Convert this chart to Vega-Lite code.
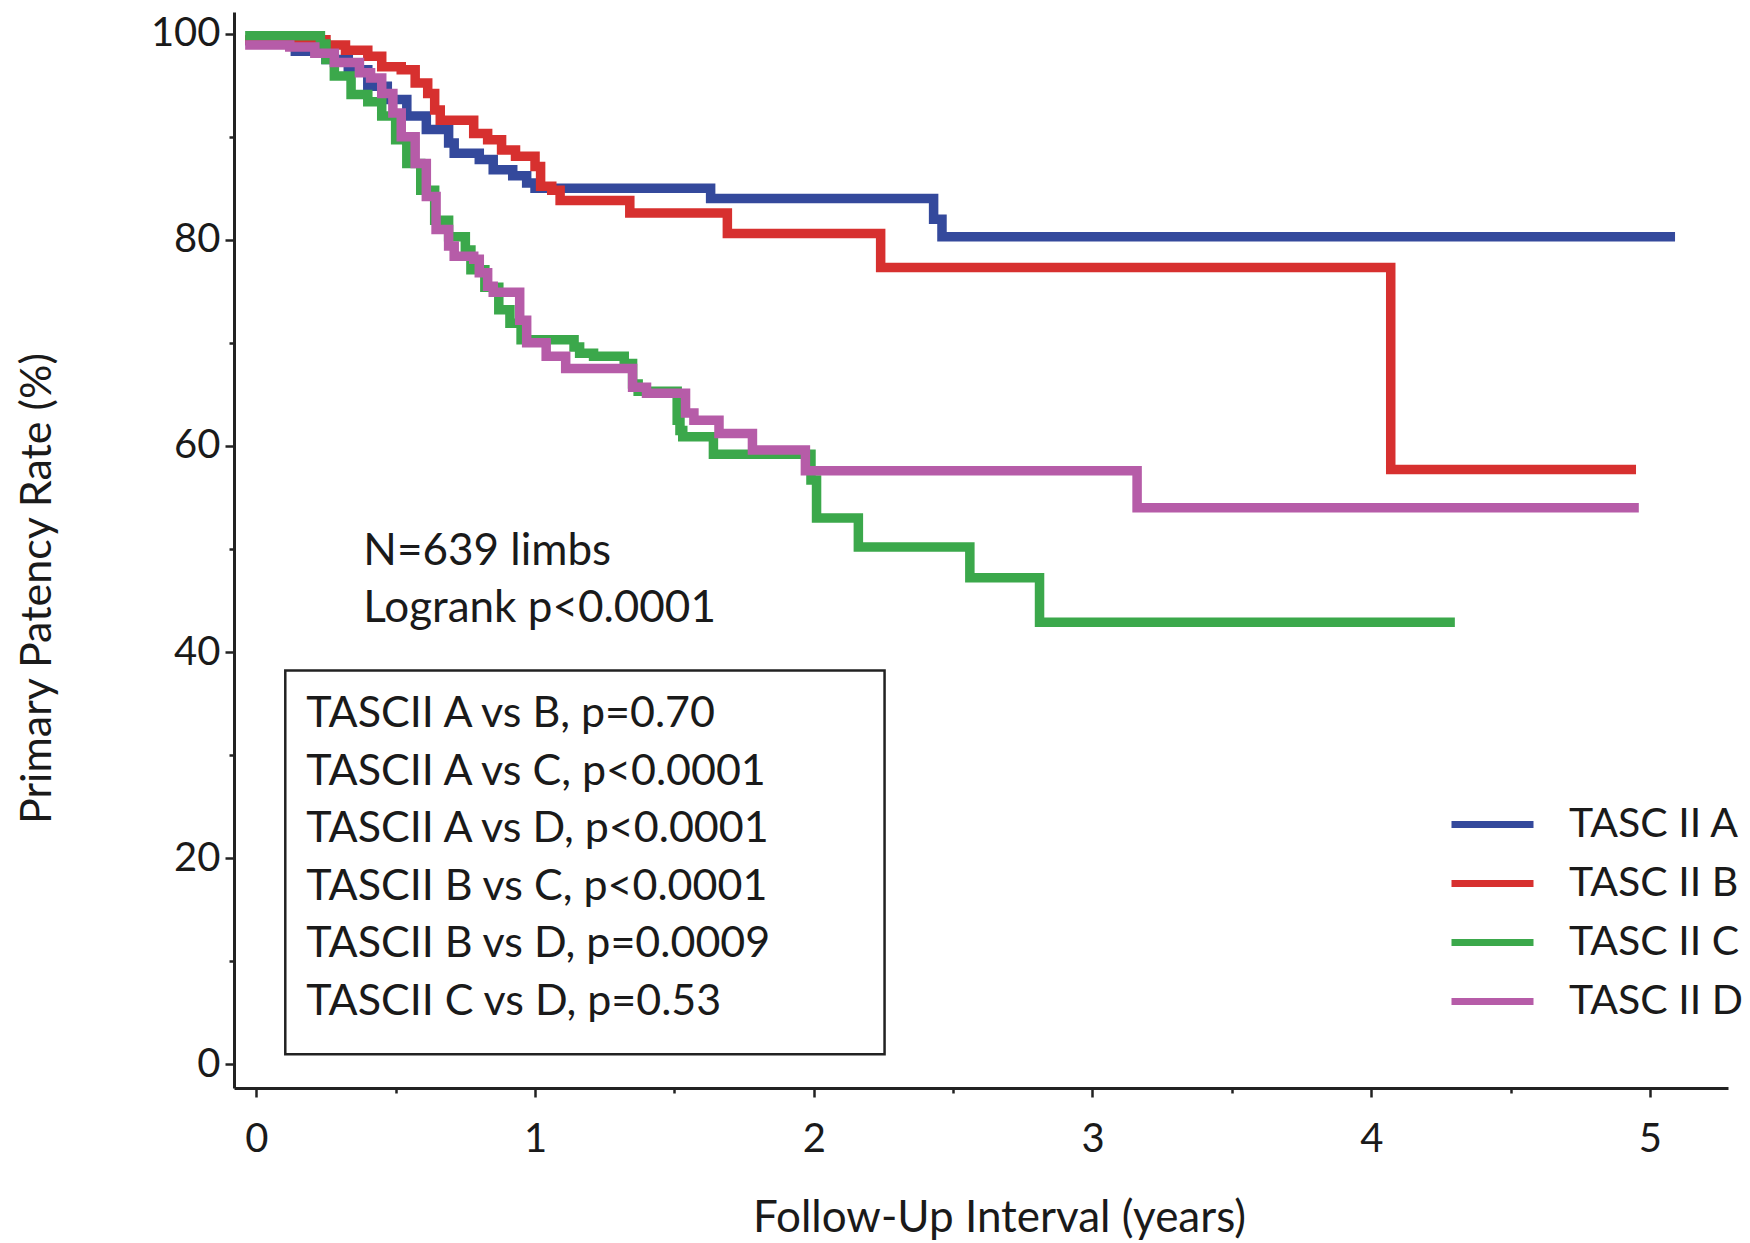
{
  "$schema": "https://vega.github.io/schema/vega-lite/v6.json",
  "width": 1494,
  "height": 1076,
  "autosize": {"type": "none"},
  "padding": {"left": 234, "top": 12, "right": 22, "bottom": 155},
  "background": "white",
  "config": {"view": {"stroke": null}, "font": "Lato"},
  "layer": [
    {
      "data": {"values": [{}]},
      "mark": {"type": "rect", "fill": null, "stroke": "#222222", "strokeWidth": 2.5},
      "encoding": {
        "x": {"datum": 0.104, "type": "quantitative"},
        "x2": {"datum": 2.254},
        "y": {"datum": 38.2, "type": "quantitative"},
        "y2": {"datum": 0.97}
      }
    },
    {
      "data": {"values": [{}]},
      "mark": {"type": "text", "align": "left", "baseline": "alphabetic", "fontSize": 44, "lineHeight": 57, "color": "#1a1a1a", "text": ["N=639 limbs", "Logrank p<0.0001"]},
      "encoding": {
        "x": {"datum": 0.384, "type": "quantitative"},
        "y": {"datum": 48.4, "type": "quantitative"}
      }
    },
    {
      "data": {"values": [{}]},
      "mark": {"type": "text", "align": "left", "baseline": "alphabetic", "fontSize": 43, "lineHeight": 57.5, "color": "#1a1a1a", "text": ["TASCII A vs B, p=0.70", "TASCII A vs C, p<0.0001", "TASCII A vs D, p<0.0001", "TASCII B vs C, p<0.0001", "TASCII B vs D, p=0.0009", "TASCII C vs D, p=0.53"]},
      "encoding": {
        "x": {"datum": 0.179, "type": "quantitative"},
        "y": {"datum": 32.7, "type": "quantitative"}
      }
    },
    {
      "data": {"values": [
        {"group": "TASC II A", "t": -0.04, "p": 99.3},
        {"group": "TASC II A", "t": 0.05, "p": 99.0},
        {"group": "TASC II A", "t": 0.14, "p": 98.3},
        {"group": "TASC II A", "t": 0.25, "p": 97.5},
        {"group": "TASC II A", "t": 0.33, "p": 96.5},
        {"group": "TASC II A", "t": 0.40, "p": 94.9},
        {"group": "TASC II A", "t": 0.47, "p": 93.6},
        {"group": "TASC II A", "t": 0.54, "p": 92.0},
        {"group": "TASC II A", "t": 0.61, "p": 90.7},
        {"group": "TASC II A", "t": 0.69, "p": 89.4},
        {"group": "TASC II A", "t": 0.71, "p": 88.4},
        {"group": "TASC II A", "t": 0.80, "p": 87.8},
        {"group": "TASC II A", "t": 0.85, "p": 86.8},
        {"group": "TASC II A", "t": 0.92, "p": 86.2},
        {"group": "TASC II A", "t": 0.97, "p": 85.5},
        {"group": "TASC II A", "t": 1.00, "p": 85.0},
        {"group": "TASC II A", "t": 1.63, "p": 84.0},
        {"group": "TASC II A", "t": 2.43, "p": 82.0},
        {"group": "TASC II A", "t": 2.46, "p": 80.3},
        {"group": "TASC II A", "t": 5.09, "p": 80.3},
        {"group": "TASC II B", "t": -0.04, "p": 99.4},
        {"group": "TASC II B", "t": 0.25, "p": 98.9},
        {"group": "TASC II B", "t": 0.32, "p": 98.4},
        {"group": "TASC II B", "t": 0.40, "p": 97.8},
        {"group": "TASC II B", "t": 0.45, "p": 96.8},
        {"group": "TASC II B", "t": 0.52, "p": 96.5},
        {"group": "TASC II B", "t": 0.57, "p": 95.2},
        {"group": "TASC II B", "t": 0.615, "p": 94.2},
        {"group": "TASC II B", "t": 0.64, "p": 92.6},
        {"group": "TASC II B", "t": 0.66, "p": 91.6},
        {"group": "TASC II B", "t": 0.78, "p": 90.3},
        {"group": "TASC II B", "t": 0.83, "p": 89.7},
        {"group": "TASC II B", "t": 0.88, "p": 88.7},
        {"group": "TASC II B", "t": 0.93, "p": 88.1},
        {"group": "TASC II B", "t": 1.00, "p": 87.1},
        {"group": "TASC II B", "t": 1.02, "p": 85.2},
        {"group": "TASC II B", "t": 1.06, "p": 84.8},
        {"group": "TASC II B", "t": 1.09, "p": 83.8},
        {"group": "TASC II B", "t": 1.34, "p": 82.6},
        {"group": "TASC II B", "t": 1.69, "p": 80.6},
        {"group": "TASC II B", "t": 2.24, "p": 77.3},
        {"group": "TASC II B", "t": 4.07, "p": 57.7},
        {"group": "TASC II B", "t": 4.95, "p": 57.7},
        {"group": "TASC II C", "t": -0.04, "p": 99.8},
        {"group": "TASC II C", "t": 0.23, "p": 99.0},
        {"group": "TASC II C", "t": 0.25, "p": 97.5},
        {"group": "TASC II C", "t": 0.28, "p": 95.9},
        {"group": "TASC II C", "t": 0.34, "p": 94.1},
        {"group": "TASC II C", "t": 0.40, "p": 93.4},
        {"group": "TASC II C", "t": 0.45, "p": 92.0},
        {"group": "TASC II C", "t": 0.50, "p": 89.7},
        {"group": "TASC II C", "t": 0.54, "p": 87.4},
        {"group": "TASC II C", "t": 0.59, "p": 84.8},
        {"group": "TASC II C", "t": 0.64, "p": 81.9},
        {"group": "TASC II C", "t": 0.69, "p": 80.3},
        {"group": "TASC II C", "t": 0.75, "p": 79.0},
        {"group": "TASC II C", "t": 0.77, "p": 77.1},
        {"group": "TASC II C", "t": 0.82, "p": 75.4},
        {"group": "TASC II C", "t": 0.87, "p": 73.2},
        {"group": "TASC II C", "t": 0.91, "p": 71.9},
        {"group": "TASC II C", "t": 0.95, "p": 70.3},
        {"group": "TASC II C", "t": 1.14, "p": 69.6},
        {"group": "TASC II C", "t": 1.16, "p": 69.0},
        {"group": "TASC II C", "t": 1.21, "p": 68.7},
        {"group": "TASC II C", "t": 1.32, "p": 68.0},
        {"group": "TASC II C", "t": 1.35, "p": 66.0},
        {"group": "TASC II C", "t": 1.37, "p": 65.3},
        {"group": "TASC II C", "t": 1.51, "p": 62.5},
        {"group": "TASC II C", "t": 1.52, "p": 61.5},
        {"group": "TASC II C", "t": 1.53, "p": 60.9},
        {"group": "TASC II C", "t": 1.64, "p": 59.2},
        {"group": "TASC II C", "t": 1.99, "p": 56.7},
        {"group": "TASC II C", "t": 2.01, "p": 53.0},
        {"group": "TASC II C", "t": 2.16, "p": 50.2},
        {"group": "TASC II C", "t": 2.56, "p": 47.2},
        {"group": "TASC II C", "t": 2.81, "p": 42.9},
        {"group": "TASC II C", "t": 4.30, "p": 42.9},
        {"group": "TASC II D", "t": -0.04, "p": 98.9},
        {"group": "TASC II D", "t": 0.12, "p": 98.7},
        {"group": "TASC II D", "t": 0.21, "p": 98.1},
        {"group": "TASC II D", "t": 0.28, "p": 97.2},
        {"group": "TASC II D", "t": 0.37, "p": 96.2},
        {"group": "TASC II D", "t": 0.41, "p": 95.7},
        {"group": "TASC II D", "t": 0.45, "p": 94.2},
        {"group": "TASC II D", "t": 0.49, "p": 92.3},
        {"group": "TASC II D", "t": 0.52, "p": 90.0},
        {"group": "TASC II D", "t": 0.57, "p": 87.4},
        {"group": "TASC II D", "t": 0.61, "p": 84.2},
        {"group": "TASC II D", "t": 0.645, "p": 81.0},
        {"group": "TASC II D", "t": 0.69, "p": 79.4},
        {"group": "TASC II D", "t": 0.71, "p": 78.4},
        {"group": "TASC II D", "t": 0.78, "p": 78.1},
        {"group": "TASC II D", "t": 0.80, "p": 76.8},
        {"group": "TASC II D", "t": 0.83, "p": 75.5},
        {"group": "TASC II D", "t": 0.85, "p": 74.9},
        {"group": "TASC II D", "t": 0.945, "p": 72.2},
        {"group": "TASC II D", "t": 0.97, "p": 70.0},
        {"group": "TASC II D", "t": 1.04, "p": 68.7},
        {"group": "TASC II D", "t": 1.11, "p": 67.5},
        {"group": "TASC II D", "t": 1.35, "p": 65.7},
        {"group": "TASC II D", "t": 1.40, "p": 65.1},
        {"group": "TASC II D", "t": 1.54, "p": 63.2},
        {"group": "TASC II D", "t": 1.57, "p": 62.5},
        {"group": "TASC II D", "t": 1.66, "p": 61.2},
        {"group": "TASC II D", "t": 1.78, "p": 59.6},
        {"group": "TASC II D", "t": 1.97, "p": 57.6},
        {"group": "TASC II D", "t": 3.16, "p": 54.0},
        {"group": "TASC II D", "t": 4.96, "p": 54.0}
      ]},
      "mark": {"type": "line", "interpolate": "step-after", "strokeWidth": 9.5, "strokeJoin": "miter"},
      "encoding": {
        "x": {
          "field": "t", "type": "quantitative",
          "scale": {"domain": [-0.08, 5.28], "nice": false, "zero": false},
          "axis": {
            "values": [0, 0.5, 1, 1.5, 2, 2.5, 3, 3.5, 4, 4.5, 5],
            "labelExpr": "datum.value % 1 === 0 ? format(datum.value, 'd') : ''",
            "tickSize": {"condition": {"test": "datum.value % 1 === 0", "value": 9}, "value": 5},
            "grid": false,
            "title": "Follow-Up Interval (years)",
            "titleFontSize": 44, "titleFontWeight": "normal", "titleColor": "#1a1a1a",
            "titleX": 765, "titleY": 143, "titleBaseline": "alphabetic", "titleAnchor": "middle", "titleAlign": "center",
            "labelFontSize": 40, "labelColor": "#1a1a1a", "labelPadding": 22,
            "domainColor": "#222222", "domainWidth": 3, "tickColor": "#222222", "tickWidth": 2.5
          }
        },
        "y": {
          "field": "p", "type": "quantitative",
          "scale": {"domain": [-2.3, 102.1], "nice": false, "zero": false},
          "axis": {
            "values": [0, 10, 20, 30, 40, 50, 60, 70, 80, 90, 100],
            "labelExpr": "datum.value % 20 === 0 ? format(datum.value, 'd') : ''",
            "tickSize": {"condition": {"test": "datum.value % 20 === 0", "value": 9}, "value": 5},
            "grid": false,
            "title": "Primary Patency Rate (%)",
            "titleFontSize": 43, "titleFontWeight": "normal", "titleColor": "#1a1a1a",
            "titleAngle": -90, "titleX": -184, "titleY": 576, "titleBaseline": "alphabetic", "titleAlign": "center",
            "labelFontSize": 40, "labelColor": "#1a1a1a", "labelPadding": 5,
            "domainColor": "#222222", "domainWidth": 3, "tickColor": "#222222", "tickWidth": 2.5
          }
        },
        "color": {
          "field": "group", "type": "nominal",
          "scale": {"domain": ["TASC II A", "TASC II B", "TASC II C", "TASC II D"], "range": ["#34499c", "#d7302f", "#3ba84b", "#b65ca8"]},
          "legend": {
            "orient": "none", "legendX": 1214, "legendY": 784, "title": null,
            "symbolType": "stroke", "symbolStrokeWidth": 7, "symbolSize": 6724,
            "labelFontSize": 41, "labelColor": "#1a1a1a", "labelOffset": 32, "labelLimit": 400,
            "clipHeight": 57, "rowPadding": 2
          }
        }
      }
    }
  ]
}
